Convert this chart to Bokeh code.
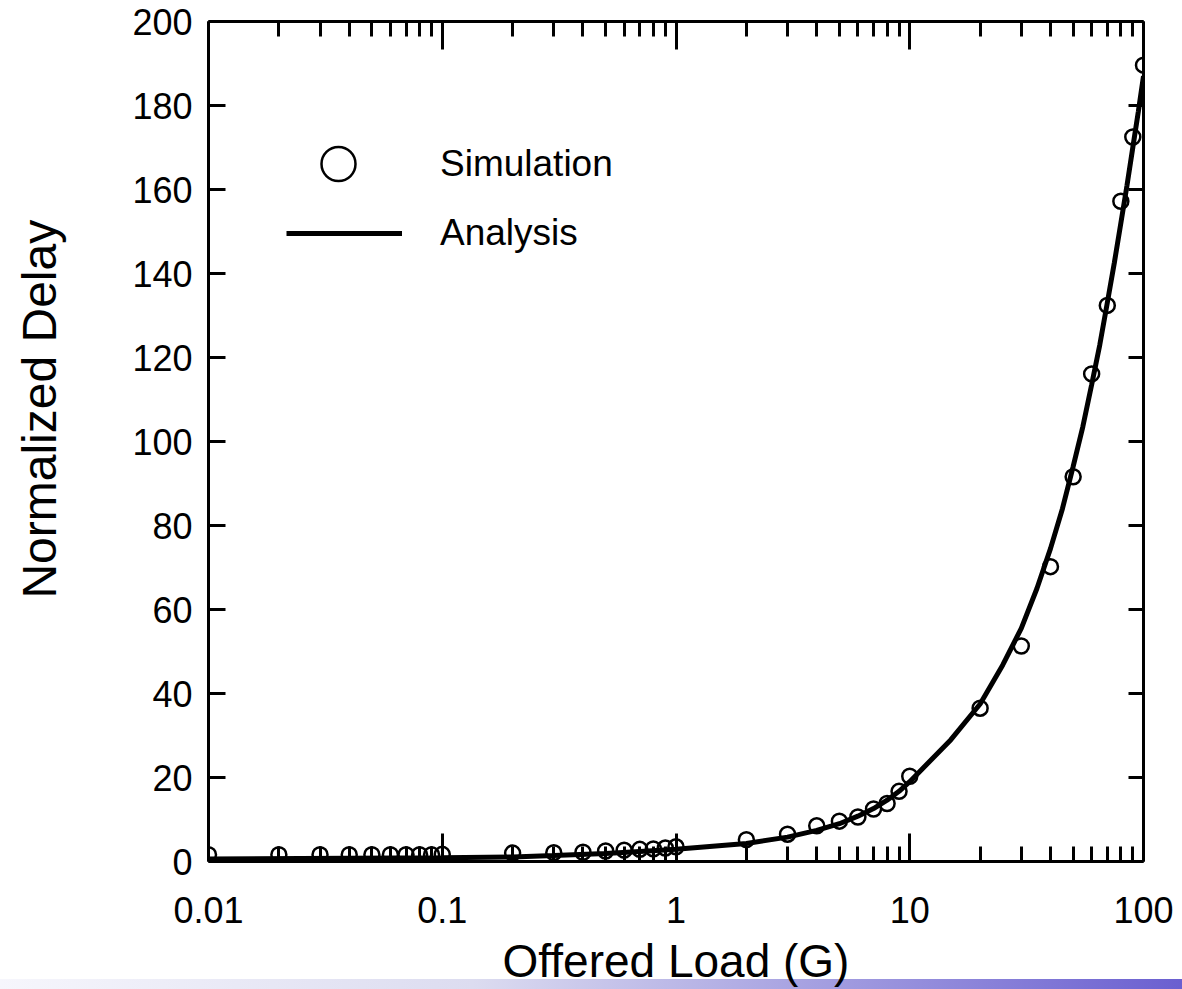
import math
from bokeh.plotting import figure
from bokeh.models import (Range1d, FixedTicker, LogAxis, LinearAxis, Legend,
                          LegendItem, Label, CustomJSTickFormatter)
from bokeh.embed import file_html
from bokeh.resources import INLINE

# ---------------- data ----------------
sim_load = [0.01, 0.02, 0.03, 0.04, 0.05, 0.06, 0.07, 0.08, 0.09, 0.1,
            0.2, 0.3, 0.4, 0.5, 0.6, 0.7, 0.8, 0.9, 1,
            2, 3, 4, 5, 6, 7, 8, 9, 10,
            20, 30, 40, 50, 60, 70, 80, 90, 100]
sim_delay = [1.6, 1.6, 1.6, 1.6, 1.6, 1.6, 1.6, 1.6, 1.6, 1.7,
             2.0, 2.1, 2.2, 2.5, 2.7, 2.9, 3.0, 3.2, 3.5,
             5.2, 6.5, 8.5, 9.6, 10.6, 12.5, 13.8, 16.7, 20.3,
             36.5, 51.3, 70.2, 91.6, 116.1, 132.4, 157.2, 172.5, 189.6]

ana_load = [0.01, 0.1, 0.2, 0.3, 0.5, 0.7, 1, 2, 3, 4, 5, 6, 7, 8, 9, 10,
            15, 20, 25, 30, 35, 40, 45, 50, 55, 60, 65, 70, 75, 80, 85,
            90, 95, 100]
ana_delay = [0.6, 0.9, 1.1, 1.4, 1.9, 2.4, 2.9, 4.3, 5.8, 7.4, 9.0, 10.8,
             12.6, 14.6, 16.7, 19.0,
             29.0, 37.5, 46.8, 55.5, 65.0, 74.5, 84.0, 94.0, 103.5, 113.5,
             123.0, 133.0, 142.5, 152.0, 161.0, 170.0, 178.5, 187.0]

x_ticks = [0.01, 0.1, 1, 10, 100]
x_tick_labels = ["0.01", "0.1", "1", "10", "100"]
x_minor_ticks = [0.02, 0.03, 0.04, 0.05, 0.06, 0.07, 0.08, 0.09,
                 0.2, 0.3, 0.4, 0.5, 0.6, 0.7, 0.8, 0.9,
                 2, 3, 4, 5, 6, 7, 8, 9,
                 20, 30, 40, 50, 60, 70, 80, 90]
y_ticks = [0, 20, 40, 60, 80, 100, 120, 140, 160, 180, 200]

series_names = ["Simulation", "Analysis"]
x_title = "Offered Load (G)"
y_title = "Normalized Delay"

FONT = "Liberation Sans"
X_MIN, X_MAX, Y_MIN, Y_MAX = 0.01, 100, 0, 200
FRAME_W, FRAME_H = 935, 845

# ---------------- figure ----------------
p = figure(width=1182, height=989, x_axis_type="log",
           x_range=Range1d(X_MIN, X_MAX), y_range=Range1d(Y_MIN, Y_MAX),
           output_backend="svg", toolbar_location=None,
           min_border_left=208, min_border_right=39,
           min_border_top=21, min_border_bottom=123)
p.grid.visible = False
p.outline_line_color = None
p.background_fill_color = "white"
p.border_fill_alpha = 0
p.styles = {"background": "linear-gradient(to right, #f6f6fc, #dcdcf0 40%, #6a5fd0) left bottom / 100% 10px no-repeat, white"}

blank = CustomJSTickFormatter(code="return ''")

def style_x(ax, labels=True):
    ax.ticker = FixedTicker(ticks=x_ticks, minor_ticks=x_minor_ticks)
    ax.major_tick_in = 28
    ax.major_tick_out = 0
    ax.minor_tick_in = 15
    ax.minor_tick_out = 0
    ax.axis_line_width = 3
    ax.major_tick_line_width = 3
    ax.minor_tick_line_width = 3
    if labels:
        ax.major_label_overrides = {t: l for t, l in zip(x_ticks, x_tick_labels)}
        ax.major_label_text_font = FONT
        ax.major_label_text_font_size = "36px"
        ax.major_label_text_color = "black"
        ax.major_label_standoff = 35
    else:
        ax.formatter = blank
        ax.major_label_standoff = 0

def style_y(ax, tick_len, labels=True):
    ax.ticker = FixedTicker(ticks=y_ticks)
    ax.major_tick_in = tick_len
    ax.major_tick_out = 0
    ax.minor_tick_line_color = None
    ax.axis_line_width = 3
    ax.major_tick_line_width = 3
    if labels:
        ax.major_label_text_font = FONT
        ax.major_label_text_font_size = "36px"
        ax.major_label_text_color = "black"
        ax.major_label_standoff = 16
    else:
        ax.formatter = blank
        ax.major_label_standoff = 0

xa = p.xaxis[0]
style_x(xa)
xa.axis_label = x_title
xa.axis_label_text_font = FONT
xa.axis_label_text_font_size = "46px"
xa.axis_label_text_font_style = "normal"
xa.axis_label_text_color = "black"
xa.axis_label_standoff = 9

ya = p.yaxis[0]
style_y(ya, 17)

top = LogAxis()
style_x(top, labels=False)
p.add_layout(top, "above")

right = LinearAxis()
style_y(right, 15, labels=False)
p.add_layout(right, "right")

# y-axis title: rotated label in the left side panel (so it is not clipped)
dx_px, dy_px = -169, 455
lab_x = X_MIN * 10 ** (dx_px / (FRAME_W / math.log10(X_MAX / X_MIN)))
lab_y = Y_MIN + dy_px * (Y_MAX - Y_MIN) / FRAME_H
p.add_layout(Label(text=y_title, x=lab_x, y=lab_y,
                   angle=math.pi / 2, text_align="center",
                   text_baseline="alphabetic",
                   text_font=FONT, text_font_size="48px",
                   text_color="black"), "left")

# ---------------- data renderers ----------------
r_line = p.line(ana_load, ana_delay, line_width=5, line_color="black")
r_pts = p.scatter(sim_load, sim_delay, marker="circle", size=15,
                  fill_color=None, line_color="black", line_width=2.5)

# ---------------- legend ----------------
common = dict(padding=0, margin=0, border_line_alpha=0,
              background_fill_alpha=0, label_text_font=FONT,
              label_text_font_size="37px", label_text_color="black",
              glyph_width=116, label_standoff=38)
lg1 = Legend(items=[LegendItem(label=series_names[0], renderers=[r_pts])],
             location=(72, 655), glyph_height=85, **common)
lg2 = Legend(items=[LegendItem(label=series_names[1], renderers=[r_line])],
             location=(78, 604), glyph_height=48, **common)
lg1.label_standoff = 44
p.add_layout(lg1, "center")
p.add_layout(lg2, "center")

open("out.html", "w").write(file_html(p, INLINE))
